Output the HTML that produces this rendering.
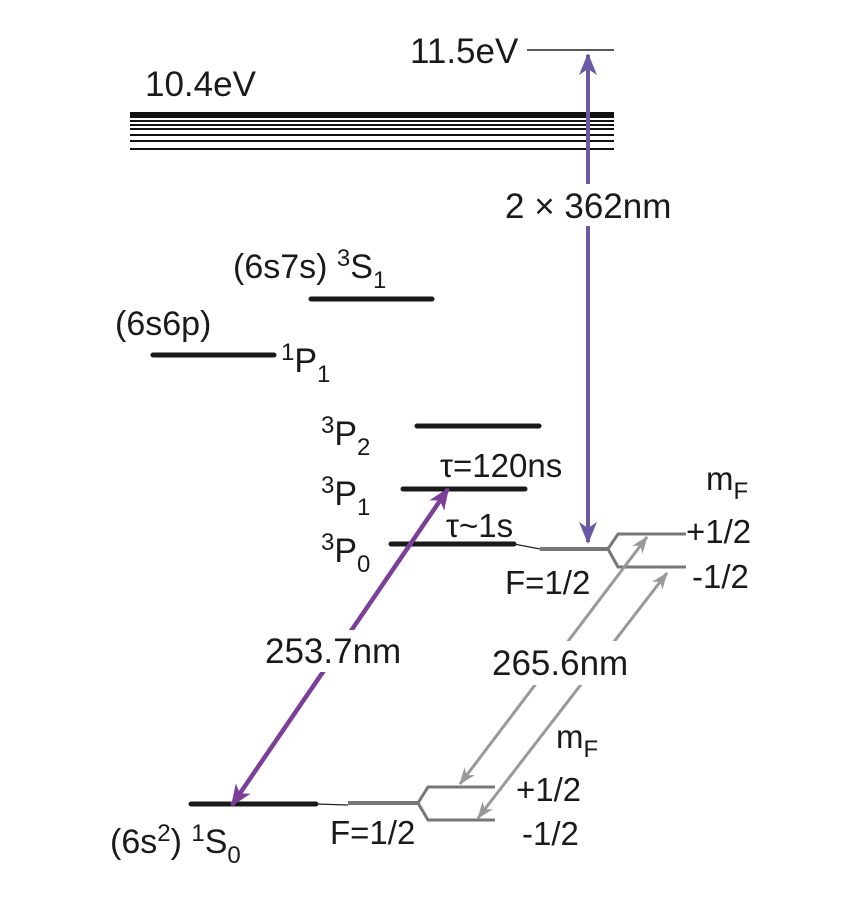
<!DOCTYPE html>
<html><head><meta charset="utf-8"><style>
body{margin:0;background:#fff;}
svg text{font-family:"Liberation Sans",Arial,sans-serif;fill:#1a1a1a;}
</style></head><body>
<svg width="856" height="892" viewBox="0 0 856 892" xmlns="http://www.w3.org/2000/svg">
<defs>
<marker id="pv" markerWidth="22" markerHeight="18" refX="20" refY="9" orient="auto-start-reverse" markerUnits="userSpaceOnUse" viewBox="0 0 22 18"><path d="M0,0 L22,9 L0,18 L6,9 z" fill="#6a5aa6"/></marker>
<marker id="pd" markerWidth="22" markerHeight="18" refX="20" refY="9" orient="auto-start-reverse" markerUnits="userSpaceOnUse" viewBox="0 0 22 18"><path d="M0,0 L22,9 L0,18 L6,9 z" fill="#7b3f98"/></marker>
<marker id="pg" markerWidth="17" markerHeight="13" refX="16" refY="6.5" orient="auto-start-reverse" markerUnits="userSpaceOnUse" viewBox="0 0 17 13"><path d="M0,0 L17,6.5 L0,13 L5,6.5 z" fill="#999"/></marker>
</defs>
<line x1="527" y1="50" x2="614" y2="50" stroke="#222" stroke-width="1.5"/>
<text x="410" y="63" font-size="35">11.5eV</text>
<text x="145" y="96" font-size="35">10.4eV</text>
<rect x="130" y="112" width="484" height="6" fill="#111"/>
<g stroke="#111" stroke-width="2">
<line x1="130" y1="121" x2="614" y2="121"/>
<line x1="130" y1="125" x2="614" y2="125"/>
<line x1="130" y1="129" x2="614" y2="129"/>
<line x1="130" y1="135" x2="614" y2="135"/>
<line x1="130" y1="141" x2="614" y2="141"/>
<line x1="130" y1="149" x2="614" y2="149"/>
</g>
<g stroke="#1a1a1a" stroke-width="5" stroke-linecap="round">
<line x1="311" y1="299" x2="432" y2="299"/>
<line x1="153" y1="355" x2="274" y2="355"/>
<line x1="417" y1="426" x2="539" y2="426"/>
<line x1="403" y1="489" x2="525" y2="489"/>
<line x1="391" y1="544" x2="514" y2="544"/>
<line x1="191" y1="804" x2="316" y2="804"/>
</g>
<line x1="514" y1="544" x2="540" y2="549" stroke="#222" stroke-width="1.2"/>
<line x1="316" y1="804" x2="348" y2="805" stroke="#222" stroke-width="1.2"/>
<g stroke="#777" stroke-width="4" fill="none">
<line x1="540" y1="549" x2="608" y2="549"/>
<polyline points="608,549 618,534 686,534" stroke-width="3"/>
<polyline points="608,549 618,567 686,567" stroke-width="3"/>
<line x1="348" y1="803" x2="418" y2="803"/>
<polyline points="418,803 428,787 495,787" stroke-width="3"/>
<polyline points="418,803 428,820 495,820" stroke-width="3"/>
</g>
<g stroke="#999" stroke-width="3">
<line x1="647" y1="537" x2="460" y2="784" marker-start="url(#pg)" marker-end="url(#pg)"/>
<line x1="667" y1="573" x2="478" y2="818" marker-start="url(#pg)" marker-end="url(#pg)"/>
</g>
<line x1="588" y1="55" x2="588" y2="542" stroke="#6a5aa6" stroke-width="4" marker-start="url(#pv)" marker-end="url(#pv)"/>
<line x1="448" y1="489" x2="232" y2="805" stroke="#7b3f98" stroke-width="4.5" marker-start="url(#pd)" marker-end="url(#pd)"/>
<rect x="500" y="184" width="180" height="42" fill="#fff"/>
<rect x="258" y="630" width="152" height="42" fill="#fff"/>
<rect x="488" y="641" width="146" height="44" fill="#fff"/>
<text x="505" y="218" font-size="35">2 × 362nm</text>
<text x="265" y="663" font-size="35">253.7nm</text>
<text x="492" y="675" font-size="35">265.6nm</text>
<text x="233" y="278" font-size="34">(6s7s) <tspan font-size="24" dy="-12">3</tspan><tspan dy="12">S</tspan><tspan font-size="24" dy="10">1</tspan></text>
<text x="115" y="335" font-size="34">(6s6p)</text>
<text x="281" y="372" font-size="34"><tspan font-size="24" dy="-12">1</tspan><tspan dy="12">P</tspan><tspan font-size="24" dy="10">1</tspan></text>
<text x="321" y="445" font-size="34"><tspan font-size="24" dy="-12">3</tspan><tspan dy="12">P</tspan><tspan font-size="24" dy="10">2</tspan></text>
<text x="321" y="505" font-size="34"><tspan font-size="24" dy="-12">3</tspan><tspan dy="12">P</tspan><tspan font-size="24" dy="10">1</tspan></text>
<text x="321" y="562" font-size="34"><tspan font-size="24" dy="-12">3</tspan><tspan dy="12">P</tspan><tspan font-size="24" dy="10">0</tspan></text>
<text x="440" y="477" font-size="33">τ=120ns</text>
<text x="446" y="537" font-size="33">τ~1s</text>
<text x="505" y="594" font-size="33">F=1/2</text>
<text x="706" y="490" font-size="33">m<tspan font-size="24" dy="9">F</tspan></text>
<text x="686" y="543" font-size="33">+1/2</text>
<text x="692" y="588" font-size="33">-1/2</text>
<text x="556" y="748" font-size="33">m<tspan font-size="24" dy="9">F</tspan></text>
<text x="516" y="801" font-size="33">+1/2</text>
<text x="522" y="845" font-size="33">-1/2</text>
<text x="330" y="844" font-size="33">F=1/2</text>
<text x="110" y="853" font-size="34">(6s<tspan font-size="24" dy="-12">2</tspan><tspan dy="12">) </tspan><tspan font-size="24" dy="-12">1</tspan><tspan dy="12">S</tspan><tspan font-size="24" dy="10">0</tspan></text>
</svg>
</body></html>
